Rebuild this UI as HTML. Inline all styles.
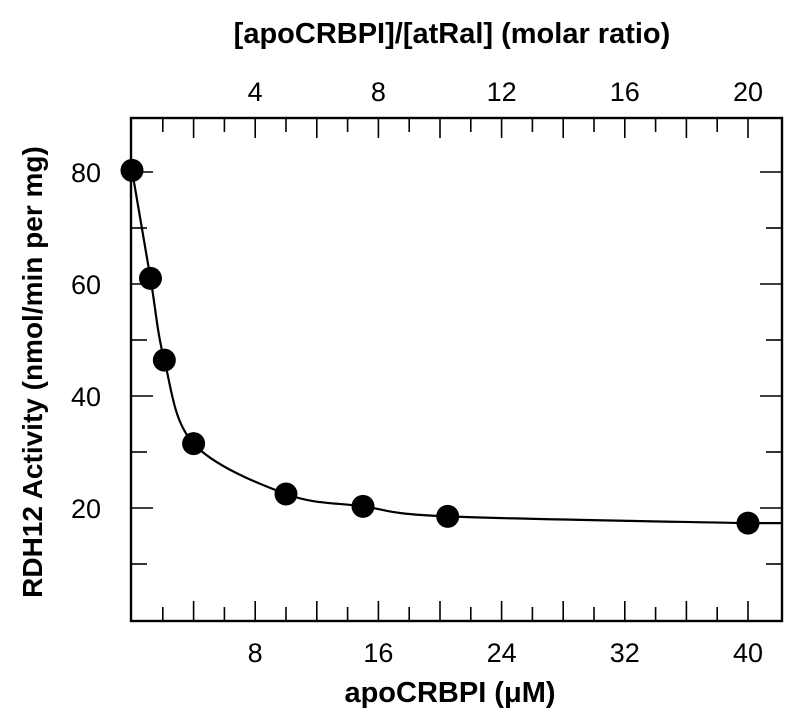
<!DOCTYPE html>
<html><head><meta charset="utf-8"><style>
body{margin:0;background:#fff;}
svg text{font-family:"Liberation Sans",Arial,sans-serif;fill:#000;}
</style></head><body>
<svg id="chart" width="800" height="721" viewBox="0 0 800 721" xmlns="http://www.w3.org/2000/svg">
<g id="axes"></g>
<path id="curve" fill="none" stroke="#000" stroke-width="2.2"></path>
<g id="points"></g>
<text x="452" y="43" text-anchor="middle" font-size="29" font-weight="bold">[apoCRBPI]/[atRal] (molar ratio)</text>
<text x="450" y="702" text-anchor="middle" font-size="29" font-weight="bold">apoCRBPI (μM)</text>
<text transform="translate(42,372) rotate(-90)" text-anchor="middle" font-size="28" font-weight="bold">RDH12 Activity (nmol/min per mg)</text>
</svg>
<script>
const xValues=[0,1.2,2.1,4,10,15,20.5,40];
const yValues=[80.3,61,46.4,31.5,22.5,20.3,18.5,17.3];
const xTickLabels=[8,16,24,32,40];
const topTickLabels=[4,8,12,16,20];
const yTickLabels=[20,40,60,80];
const L=131,R=782,T=118,B=621;
const x0=132,sx=15.4;
const X=v=>x0+v*sx;
const Y=v=>620-v*5.6;
const ns="http://www.w3.org/2000/svg";
const axes=document.getElementById('axes');
function ln(x1,y1,x2,y2,name,w){const e=document.createElementNS(ns,'line');
e.setAttribute('x1',x1);e.setAttribute('y1',y1);e.setAttribute('x2',x2);e.setAttribute('y2',y2);
e.setAttribute('stroke','#000');e.setAttribute('stroke-width',w||1.6);


axes.appendChild(e);}
function tx(x,y,s,anchor,name){const e=document.createElementNS(ns,'text');
e.setAttribute('x',x);e.setAttribute('y',y);e.setAttribute('text-anchor',anchor);e.setAttribute('font-size','27');
e.textContent=s;


axes.appendChild(e);}
const fr=document.createElementNS(ns,'rect');
fr.setAttribute('x',L);fr.setAttribute('y',T);fr.setAttribute('width',R-L);fr.setAttribute('height',B-T);
fr.setAttribute('fill','none');fr.setAttribute('stroke','#000');fr.setAttribute('stroke-width','2.4');


axes.appendChild(fr);
for(let v=2;v<=40;v+=2){const major=v%4===0;ln(X(v),B,X(v),B-(major?20:14),'x-tick');}
xTickLabels.forEach(v=>tx(X(v),662,v,'middle','x-tick-label'));
for(let r=1;r<=20;r++){const major=r%2===0;ln(X(r*2),T,X(r*2),T+(major?20:14),'top-tick');}
topTickLabels.forEach(v=>tx(X(v*2),101,v,'middle','top-tick-label'));
for(let v=10;v<=80;v+=10){ln(L,Y(v),L+(v%20===0?22:16),Y(v),'y-tick');ln(R,Y(v),R-(v%20===0?22:16),Y(v),'y-tick-right');}
yTickLabels.forEach(v=>tx(101,Y(v)+10,v,'end','y-tick-label'));
const P=xValues.map((v,i)=>[X(v),Y(yValues[i])]);
let d='M'+P[0][0]+','+P[0][1];
for(let i=0;i<P.length-1;i++){const p0=P[i-1]||P[i],p1=P[i],p2=P[i+1],p3=P[i+2]||p2;
const c1=[p1[0]+(p2[0]-p0[0])/6,p1[1]+(p2[1]-p0[1])/6],c2=[p2[0]-(p3[0]-p1[0])/6,p2[1]-(p3[1]-p1[1])/6];
d+=' C'+c1+' '+c2+' '+p2;}
d+=' L'+R+','+(P[P.length-1][1]);
document.getElementById('curve').setAttribute('d',d);
const pts=document.getElementById('points');
P.forEach(p=>{const c=document.createElementNS(ns,'ellipse');
c.setAttribute('cx',p[0]);c.setAttribute('cy',p[1]);c.setAttribute('rx',11.5);c.setAttribute('ry',11.5);


pts.appendChild(c);});
</script>
</body></html>
